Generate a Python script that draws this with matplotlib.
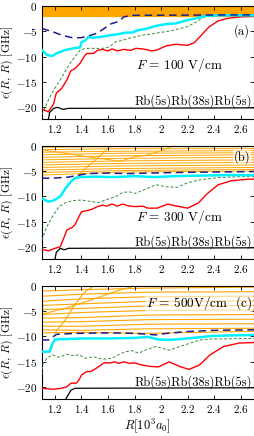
import matplotlib

matplotlib.use("Agg")
import matplotlib.pyplot as plt
from matplotlib.ticker import FuncFormatter

plt.rcParams["font.family"] = "serif"
plt.rcParams["font.serif"] = ["cmr10"]
plt.rcParams["mathtext.fontset"] = "cm"
plt.rcParams["axes.formatter.use_mathtext"] = True

ORANGE = "#ffa500"
CYAN = "#00f0ff"
RED = "#ff0000"
NAVY = "#1c1c8c"
GREEN = "#3a8a3a"

# ---------------- panel (a): F = 100 V/cm ----------------
a_orange_levels = [-0.05 - 0.1 * i for i in range(20)]

a_red_x = [1.10, 1.15, 1.19, 1.21, 1.25, 1.29, 1.32, 1.35, 1.39, 1.42, 1.44, 1.49, 1.52, 1.56,
           1.60, 1.63, 1.67, 1.72, 1.77, 1.81, 1.86, 1.93, 1.97, 2.04, 2.11, 2.20, 2.25, 2.30,
           2.36, 2.43, 2.50, 2.60, 2.70]
a_red_y = [-20.3, -20.9, -19.3, -17.2, -16.3, -14.6, -12.8, -12.4, -11.3, -10.0, -9.4, -9.4, -8.8,
           -8.6, -8.9, -8.5, -8.9, -8.6, -8.8, -8.4, -8.5, -8.9, -8.7, -7.9, -7.6, -7.8, -7.3,
           -5.9, -4.2, -3.0, -2.5, -2.2, -2.1]

a_cyan_x = [1.10, 1.14, 1.18, 1.21, 1.28, 1.34, 1.39, 1.40, 1.43, 1.45, 1.49, 1.56, 1.62, 1.68,
            1.73, 1.78, 1.83, 1.88, 1.96, 2.04, 2.11, 2.19, 2.26, 2.34, 2.44, 2.70]
a_cyan_y = [-8.7, -9.7, -9.9, -9.4, -8.7, -8.4, -8.2, -7.2, -6.8, -6.2, -6.3, -6.1, -5.8, -5.6,
            -5.3, -5.3, -4.8, -4.6, -4.0, -3.6, -3.5, -2.9, -2.5, -2.0, -1.9, -1.9]

a_navy_x = [1.10, 1.18, 1.25, 1.33, 1.40, 1.47, 1.52, 1.57, 1.62, 1.68, 1.72, 1.78, 2.70]
a_navy_y = [-4.5, -5.1, -5.8, -6.3, -6.3, -5.8, -5.4, -4.5, -3.6, -3.1, -2.2, -1.9, -1.8]

a_green_x = [1.10, 1.15, 1.19, 1.24, 1.29, 1.34, 1.39, 1.43, 1.50, 1.56, 1.61, 1.66, 1.71, 1.76,
             1.81, 1.86, 1.92, 1.99, 2.06, 2.13, 2.20, 2.26, 2.30, 2.35, 2.70]
a_green_y = [-21.5, -18.6, -16.6, -14.6, -12.3, -10.4, -8.7, -8.4, -8.4, -8.4, -8.1, -7.1, -6.8,
             -6.4, -6.1, -5.8, -5.6, -5.3, -5.0, -4.6, -4.1, -3.3, -2.6, -1.9, -1.8]

a_black_x = [1.15, 1.16, 1.19, 1.22, 1.26, 1.30, 2.70]
a_black_y = [-22.4, -21.0, -20.2, -20.0, -20.4, -20.2, -20.1]

# ---------------- panel (b): F = 300 V/cm ----------------
b_orange_x = [1.10, 1.70, 2.70]
b_orange_y = [
    [-0.3, -0.2, -0.2], [-0.8, -0.6, -0.6], [-1.3, -1.1, -1.0], [-1.8, -1.5, -1.4],
    [-2.3, -2.0, -1.8], [-2.8, -2.5, -2.3], [-3.3, -3.0, -2.8], [-3.8, -3.5, -3.3],
    [-4.3, -4.0, -3.8], [-4.8, -4.5, -4.3], [-5.3, -4.9, -4.7], [-5.8, -5.2, -5.0],
]
b_steep_x = [[1.36, 1.45, 1.52, 1.58, 1.62], [1.70, 1.80, 1.89, 1.99, 2.09],
             [1.10, 1.30, 1.50, 1.70]]
b_steep_y = [[-6.2, -4.0, -2.5, -1.0, 0.0], [-3.0, -2.2, -1.9, -1.1, 0.0],
             [-0.8, -1.6, -2.4, -3.1]]

b_red_x = [1.10, 1.15, 1.20, 1.24, 1.26, 1.29, 1.33, 1.35, 1.38, 1.40, 1.44, 1.48, 1.52, 1.56,
           1.59, 1.63, 1.67, 1.71, 1.76, 1.81, 1.86, 1.90, 1.97, 2.05, 2.12, 2.20, 2.28, 2.35,
           2.43, 2.53, 2.66, 2.70]
b_red_y = [-20.4, -20.7, -20.2, -19.9, -18.6, -16.6, -16.1, -15.6, -14.0, -13.0, -12.8, -12.5,
           -12.0, -11.7, -11.9, -11.5, -11.9, -11.5, -11.9, -12.0, -11.9, -12.3, -12.3, -11.5,
           -11.9, -12.3, -11.3, -9.4, -7.7, -6.9, -6.6, -6.6]

b_cyan_x = [1.10, 1.15, 1.19, 1.24, 1.28, 1.32, 1.35, 1.39, 1.50, 1.65, 1.80, 1.95, 2.10, 2.30,
            2.50, 2.70]
b_cyan_y = [-10.4, -11.0, -10.8, -10.0, -8.4, -7.1, -6.4, -6.2, -6.1, -6.2, -6.0, -6.2, -6.0,
            -5.9, -5.8, -5.8]

b_navy_x = [1.10, 1.18, 1.30, 1.38, 1.45, 1.60, 1.75, 1.90, 2.20, 2.70]
b_navy_y = [-6.4, -6.4, -6.2, -5.8, -5.5, -5.4, -5.5, -5.4, -5.25, -5.1]

b_green_x = [1.10, 1.14, 1.18, 1.23, 1.28, 1.34, 1.40, 1.47, 1.53, 1.58, 1.66, 1.71, 1.76, 1.81,
             1.85, 1.90, 1.96, 2.04, 2.12, 2.20, 2.30, 2.43, 2.60, 2.70]
b_green_y = [-18.6, -15.9, -14.0, -12.0, -11.2, -10.8, -10.7, -11.0, -11.2, -10.7, -10.0, -9.2,
             -9.1, -9.4, -8.9, -8.4, -7.7, -8.1, -8.2, -7.3, -6.7, -6.3, -6.1, -6.1]

b_black_x = [1.20, 1.21, 1.24, 1.27, 1.30, 2.70]
b_black_y = [-22.4, -21.0, -20.2, -20.5, -20.2, -20.1]

# ---------------- panel (c): F = 500 V/cm ----------------
c_orange_x = [1.10, 1.40, 1.90, 2.70]
c_orange_y = [
    [-1.1, -0.8, -0.5, -0.3], [-2.1, -1.7, -1.3, -1.2], [-3.1, -2.6, -2.2, -2.1],
    [-3.9, -3.6, -3.1, -3.0], [-4.7, -4.5, -4.0, -3.9], [-5.7, -5.3, -4.9, -4.8],
    [-6.4, -6.3, -5.8, -5.7], [-7.2, -7.1, -6.7, -6.6], [-8.0, -8.0, -7.6, -7.5],
    [-8.7, -8.8, -8.5, -8.4], [-9.3, -9.2, -9.4, -9.0],
]
c_steep_x = [[1.20, 1.28, 1.34, 1.42, 1.49], [1.09, 1.30, 1.50, 1.65, 1.81]]
c_steep_y = [[-9.3, -6.7, -4.1, -1.4, -0.1], [-5.7, -4.3, -2.6, -1.2, 0.0]]

c_red_x = [1.10, 1.19, 1.25, 1.29, 1.32, 1.36, 1.38, 1.40, 1.44, 1.47, 1.51, 1.57, 1.62, 1.65,
           1.68, 1.72, 1.76, 1.80, 1.85, 1.92, 1.98, 2.06, 2.14, 2.21, 2.29, 2.37, 2.47, 2.59,
           2.70]
c_red_y = [-20.2, -20.4, -20.2, -19.9, -19.2, -19.2, -18.6, -17.6, -16.9, -16.9, -16.3, -15.2,
           -15.2, -15.0, -15.3, -15.0, -15.3, -15.2, -15.6, -15.9, -16.0, -15.0, -15.9, -16.5,
           -15.6, -13.6, -12.0, -11.3, -11.2]

c_cyan_x = [1.10, 1.16, 1.18, 1.20, 1.40, 1.60, 1.80, 1.90, 1.98, 2.06, 2.20, 2.39, 2.70]
c_cyan_y = [-13.0, -13.0, -11.5, -10.6, -10.4, -10.4, -10.3, -10.1, -10.6, -10.7, -10.4, -9.9, -9.7]

c_navy_x = [1.10, 1.15, 1.19, 1.21, 1.35, 1.60, 1.80, 1.96, 2.04, 2.19, 2.40, 2.70]
c_navy_y = [-10.7, -10.7, -10.0, -9.6, -9.4, -9.3, -9.4, -9.7, -9.4, -9.05, -8.8, -8.7]

c_green_x = [1.10, 1.11, 1.14, 1.18, 1.23, 1.29, 1.34, 1.38, 1.43, 1.49, 1.56, 1.63, 1.68, 1.73,
             1.78, 1.83, 1.88, 1.96, 2.06, 2.14, 2.21, 2.29, 2.39, 2.70]
c_green_y = [-17.5, -15.3, -14.3, -13.6, -14.1, -13.5, -13.8, -13.6, -14.3, -14.0, -14.5, -14.3,
             -13.6, -13.0, -12.8, -13.3, -12.7, -12.0, -12.7, -12.0, -11.4, -10.7, -10.5, -10.4]

c_black_x = [1.28, 1.30, 1.32, 1.35, 2.70]
c_black_y = [-22.4, -21.5, -20.6, -20.2, -20.1]

x_ticks = [1.2, 1.4, 1.6, 1.8, 2.0, 2.2, 2.4, 2.6]
y_ticks = [-20, -15, -10, -5, 0]
state_label = "Rb(5s)Rb(38s)Rb(5s)"


def draw_curves(ax, red, cyan, navy, green, black):
    ax.plot(*green, color=GREEN, lw=0.7, ls=(0, (3, 2)), zorder=3)
    ax.plot(*red, color=RED, lw=1.0, zorder=4)
    ax.plot(*cyan, color=CYAN, lw=1.8, zorder=4)
    ax.plot(*navy, color=NAVY, lw=1.1, ls=(0, (5, 3)), zorder=5)
    ax.plot(*black, color="black", lw=0.9, zorder=4)


def style_axes(ax, last):
    ax.set_xlim(1.1, 2.7)
    ax.set_ylim(-22.3, 0)
    ax.set_xticks(x_ticks)
    ax.set_yticks(y_ticks)
    ax.xaxis.set_major_formatter(FuncFormatter(lambda v, p: f"${v:g}$"))
    ax.yaxis.set_major_formatter(FuncFormatter(lambda v, p: f"${v:g}$"))
    ax.tick_params(direction="in", top=True, right=True, length=3, width=0.6,
                   labelsize=8, pad=3)
    for s in ax.spines.values():
        s.set_linewidth(0.8)
    ax.set_ylabel(r"$\epsilon(R,\,R)$ [GHz]", fontsize=8.5, labelpad=1)
    if last:
        ax.set_xlabel(r"$R[10^3a_0]$", fontsize=9, labelpad=1)


fig = plt.figure(figsize=(2.55, 4.36), dpi=100)
ax_a = fig.add_axes([0.1635, 0.727, 0.8325, 0.260])
ax_b = fig.add_axes([0.1635, 0.406, 0.8325, 0.260])
ax_c = fig.add_axes([0.1635, 0.085, 0.8325, 0.260])

# (a)
for lev in a_orange_levels:
    ax_a.axhline(lev, color=ORANGE, lw=0.9, zorder=1)
draw_curves(ax_a, (a_red_x, a_red_y), (a_cyan_x, a_cyan_y), (a_navy_x, a_navy_y),
            (a_green_x, a_green_y), (a_black_x, a_black_y))
ax_a.text(2.67, -5.1, "(a)", ha="right", va="center", fontsize=9)
ax_a.text(2.14, -11.7, r"$F$ = 100 V/cm", ha="center", va="center", fontsize=9.5)
ax_a.text(2.685, -18.7, state_label, ha="right", va="center", fontsize=9)
style_axes(ax_a, False)

# (b)
for ys in b_orange_y:
    ax_b.plot(b_orange_x, ys, color=ORANGE, lw=0.7, zorder=1)
for xs, ys in zip(b_steep_x, b_steep_y):
    ax_b.plot(xs, ys, color=ORANGE, lw=0.7, zorder=1)
draw_curves(ax_b, (b_red_x, b_red_y), (b_cyan_x, b_cyan_y), (b_navy_x, b_navy_y),
            (b_green_x, b_green_y), (b_black_x, b_black_y))
ax_b.text(2.67, -2.2, "(b)", ha="right", va="center", fontsize=9, zorder=6,
          bbox=dict(facecolor="white", edgecolor="none", alpha=0.6, pad=0.5))
ax_b.text(2.14, -14.0, r"$F$ = 300 V/cm", ha="center", va="center", fontsize=9.5)
ax_b.text(2.685, -18.9, state_label, ha="right", va="center", fontsize=9)
style_axes(ax_b, False)

# (c)
for ys in c_orange_y:
    ax_c.plot(c_orange_x, ys, color=ORANGE, lw=0.8, zorder=1)
for xs, ys in zip(c_steep_x, c_steep_y):
    ax_c.plot(xs, ys, color=ORANGE, lw=0.8, zorder=1)
draw_curves(ax_c, (c_red_x, c_red_y), (c_cyan_x, c_cyan_y), (c_navy_x, c_navy_y),
            (c_green_x, c_green_y), (c_black_x, c_black_y))
ax_c.text(2.685, -3.5, r"$F$ = 500V/cm  (c)", ha="right", va="center", fontsize=9.5, zorder=6,
          bbox=dict(facecolor="white", edgecolor="none", alpha=0.6, pad=0.5))
ax_c.text(2.685, -18.9, state_label, ha="right", va="center", fontsize=9)
style_axes(ax_c, True)

fig.savefig("out.png", dpi=100)
